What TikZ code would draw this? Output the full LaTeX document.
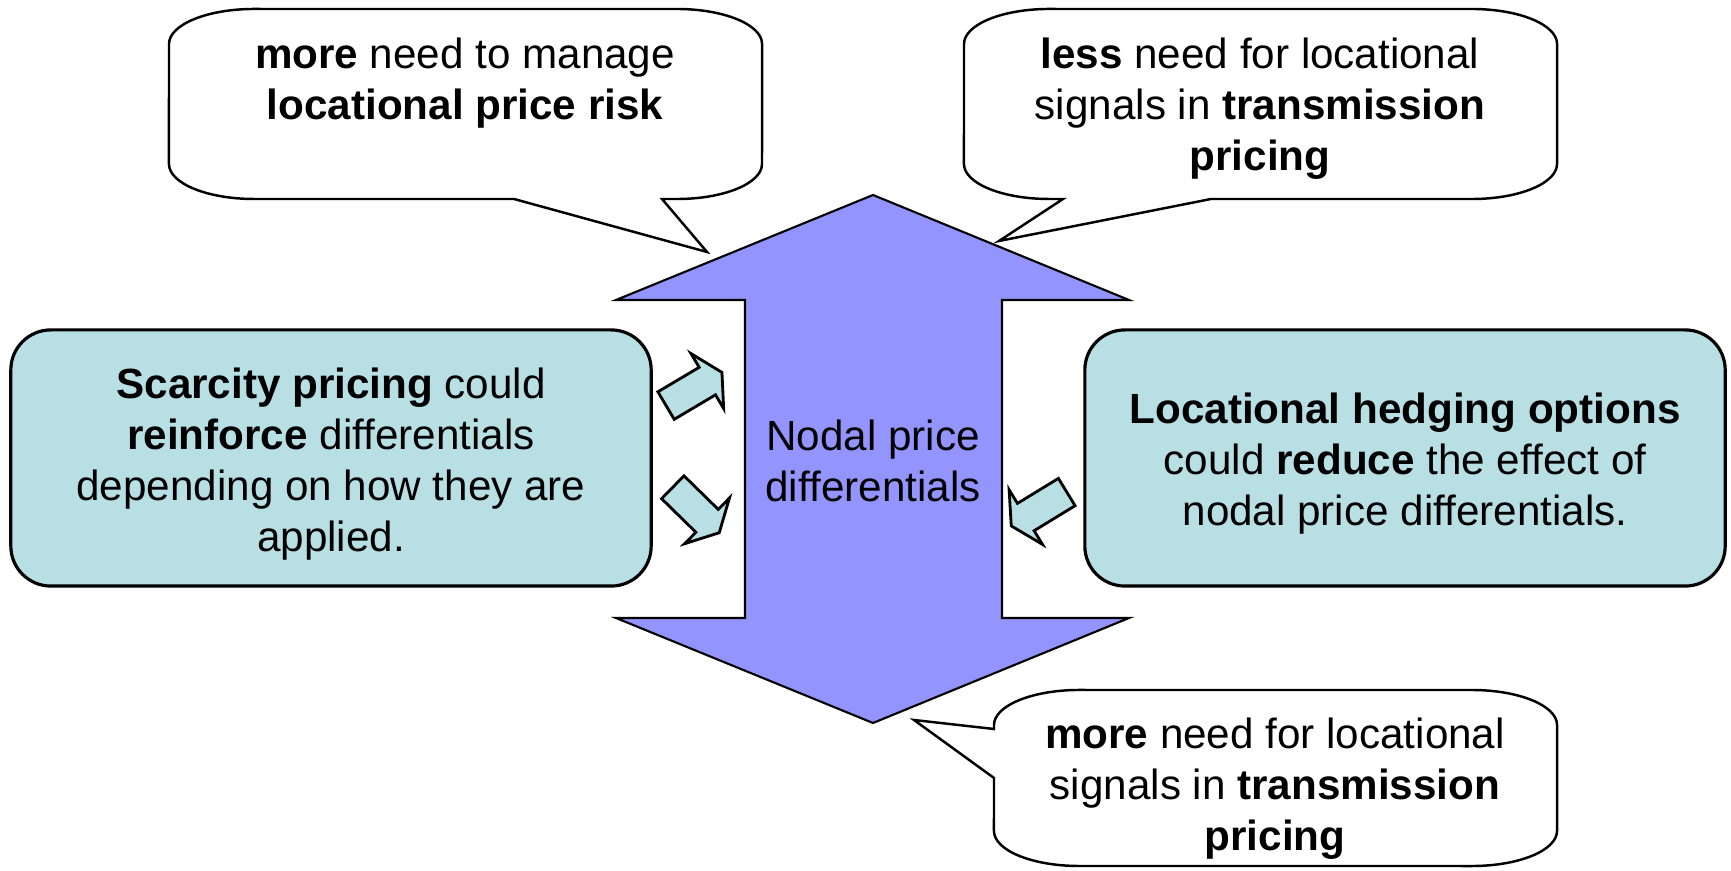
\documentclass[tikz,border=0pt]{standalone}
\usepackage{fontspec}
\setmainfont{Liberation Sans}
\definecolor{boxfill}{RGB}{184,223,228}
\definecolor{arrowfill}{RGB}{148,148,255}

\begin{document}
\begin{tikzpicture}[x=0.01cm, y=0.01cm,
    txt/.style={align=center, font=\fontsize{12}{14.5}\selectfont},
    sidebox/.style={txt, draw=black, line width=0.9pt, fill=boxfill, rounded corners=0.4cm,
        minimum width=6.4cm, minimum height=2.56cm},
    callout/.style={draw=black, line width=0.7pt, fill=white, line join=miter},
    smallarrow/.style={draw=black, line width=0.8pt, fill=boxfill, line join=miter}]
        \useasboundingbox (0,0) rectangle (1731,-871);

        % the big double arrow in the middle
        \filldraw[fill=arrowfill, draw=black, line width=0.6pt] (873,-195) -- (1129,-300) -- (1002,-300) -- (1002,-618)
            -- (1129,-618) -- (873,-723) -- (616,-618) -- (745,-618) -- (745,-300) -- (616,-300) -- cycle;
        \node[txt] (nodal) at (873,-461) {Nodal price\\differentials};

        % the two boxes at the sides (the strut pushes the text down a little)
        \node[sidebox] (scarcity) at (331,-458) {\rule{0pt}{12pt}\textbf{Scarcity pricing} could\\\textbf{reinforce} differentials\\depending on how they are\\applied.};
        \node[sidebox] (hedging) at (1405,-458) {\rule{0pt}{12pt}\textbf{Locational hedging options}\\could \textbf{reduce} the effect of\\nodal price differentials.};

        % the small arrows (drawn around the origin, then turned and moved)
        \draw[smallarrow, shift={(694,-389)}, rotate=30.7] (-32.5,-16) -- (15.5,-16) -- (15.5,-32) -- (32.5,0)
            -- (15.5,32) -- (15.5,16) -- (-32.5,16) -- cycle;
        \draw[smallarrow, shift={(696,-510)}, rotate=-44.4] (-32.5,-16) -- (15.5,-16) -- (15.5,-32) -- (32.5,0)
            -- (15.5,32) -- (15.5,16) -- (-32.5,16) -- cycle;
        \draw[smallarrow, shift={(1039,-509)}, rotate=211.4] (-32.5,-16) -- (15.5,-16) -- (15.5,-32) -- (32.5,0)
            -- (15.5,32) -- (15.5,16) -- (-32.5,16) -- cycle;

        % the callouts
        \draw[callout] (254,-9) -- (677,-9) arc[start angle=90, end angle=0, x radius=0.85cm, y radius=0.35cm]
            -- (762,-164) arc[start angle=0, end angle=-90, x radius=0.85cm, y radius=0.35cm]
            -- (662,-199) -- (707,-252) -- (514,-199)
            -- (254,-199) arc[start angle=-90, end angle=-180, x radius=0.85cm, y radius=0.35cm]
            -- (169,-44) arc[start angle=180, end angle=90, x radius=0.85cm, y radius=0.35cm] -- cycle;
        \draw[callout] (1049,-9) -- (1472,-9) arc[start angle=90, end angle=0, x radius=0.85cm, y radius=0.35cm]
            -- (1557,-164) arc[start angle=0, end angle=-90, x radius=0.85cm, y radius=0.35cm]
            -- (1211,-199) -- (999,-241) -- (1063,-199)
            -- (1049,-199) arc[start angle=-90, end angle=-180, x radius=0.85cm, y radius=0.35cm]
            -- (964,-44) arc[start angle=180, end angle=90, x radius=0.85cm, y radius=0.35cm] -- cycle;
        \draw[callout] (1079,-690) -- (1472,-690) arc[start angle=90, end angle=0, x radius=0.85cm, y radius=0.35cm]
            -- (1557,-831) arc[start angle=0, end angle=-90, x radius=0.85cm, y radius=0.35cm]
            -- (1079,-866) arc[start angle=-90, end angle=-180, x radius=0.85cm, y radius=0.35cm]
            -- (994,-778) -- (914,-720) -- (994,-729)
            -- (994,-725) arc[start angle=180, end angle=90, x radius=0.85cm, y radius=0.35cm] -- cycle;

        % the texts in the callouts
        \node[txt] (riskcall) at (465,-83) {\textbf{more} need to manage\\\textbf{locational price risk}};
        \node[txt] (lesscall) at (1260,-109) {\textbf{less} need for locational\\signals in \textbf{transmission}\\\textbf{pricing}};
        \node[txt] (morecall) at (1275,-789) {\textbf{more} need for locational\\signals in \textbf{transmission}\\\textbf{pricing}};

    \end{tikzpicture}
\end{document}
